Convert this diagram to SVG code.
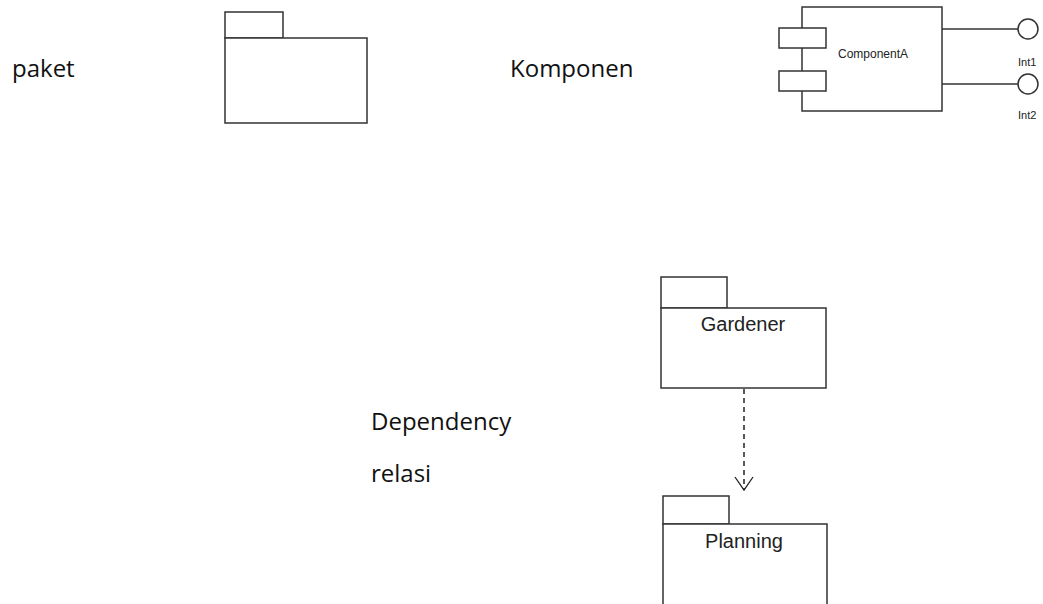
<svg xmlns="http://www.w3.org/2000/svg" width="1043" height="604" viewBox="0 0 1043 604">
<style>
.ln{fill:#fff;stroke:#333;stroke-width:1.5}
.lbl{font-family:"Open Sans","Noto Sans",sans-serif;font-size:24px;fill:#111}
.uml{font-family:"Liberation Sans",Arial,sans-serif;fill:#222}
</style>
<defs>
<marker id="open" markerWidth="20" markerHeight="20" refX="14" refY="10" markerUnits="userSpaceOnUse" orient="auto" viewBox="0 0 20 20">
<path d="M1,1 L14,10 L1,19" fill="none" stroke="#222" stroke-width="1.3"/>
</marker>
</defs>
<rect width="1043" height="604" fill="#fff"/>
<text class="lbl" x="12" y="77">paket</text>
<text class="lbl" x="510" y="77" font-size="24.5">Komponen</text>
<text class="lbl" x="371" y="430">Dependency</text>
<text class="lbl" x="371" y="482">relasi</text>
<g id="paket">
<rect class="ln" x="225" y="12" width="58" height="26"/>
<rect class="ln" x="225" y="38" width="142" height="85"/>
</g>
<g id="componentA">
<line x1="942" y1="29" x2="1018" y2="29" stroke="#333" stroke-width="1.3"/>
<line x1="942" y1="84" x2="1018" y2="84" stroke="#333" stroke-width="1.3"/>
<rect class="ln" x="802" y="7" width="140" height="104" stroke-width="1.3"/>
<rect class="ln" x="779" y="28" width="47" height="20" stroke-width="1.3"/>
<rect class="ln" x="779" y="71" width="47" height="20" stroke-width="1.3"/>
<text class="uml" x="838" y="58" font-size="12">ComponentA</text>
<circle class="ln" cx="1028" cy="29" r="10" stroke-width="1.3"/>
<circle class="ln" cx="1028" cy="84" r="10" stroke-width="1.3"/>
<text class="uml" x="1018" y="66" font-size="11">Int1</text>
<text class="uml" x="1018" y="119" font-size="11">Int2</text>
</g>
<g id="gardener">
<rect class="ln" x="661" y="277" width="66" height="31"/>
<rect class="ln" x="661" y="308" width="165" height="80"/>
<text class="uml" x="743" y="331" font-size="20" text-anchor="middle">Gardener</text>
</g>
<g id="planning">
<rect class="ln" x="663" y="496" width="66" height="28"/>
<path class="ln" d="M663,606 L663,524 L827,524 L827,606"/>
<text class="uml" x="744" y="548" font-size="20" text-anchor="middle">Planning</text>
</g>
<g id="connectors">
<line x1="744" y1="389" x2="744" y2="490" stroke="#222" stroke-width="1.5" stroke-dasharray="5,4" marker-end="url(#open)"/>
</g>
</svg>
